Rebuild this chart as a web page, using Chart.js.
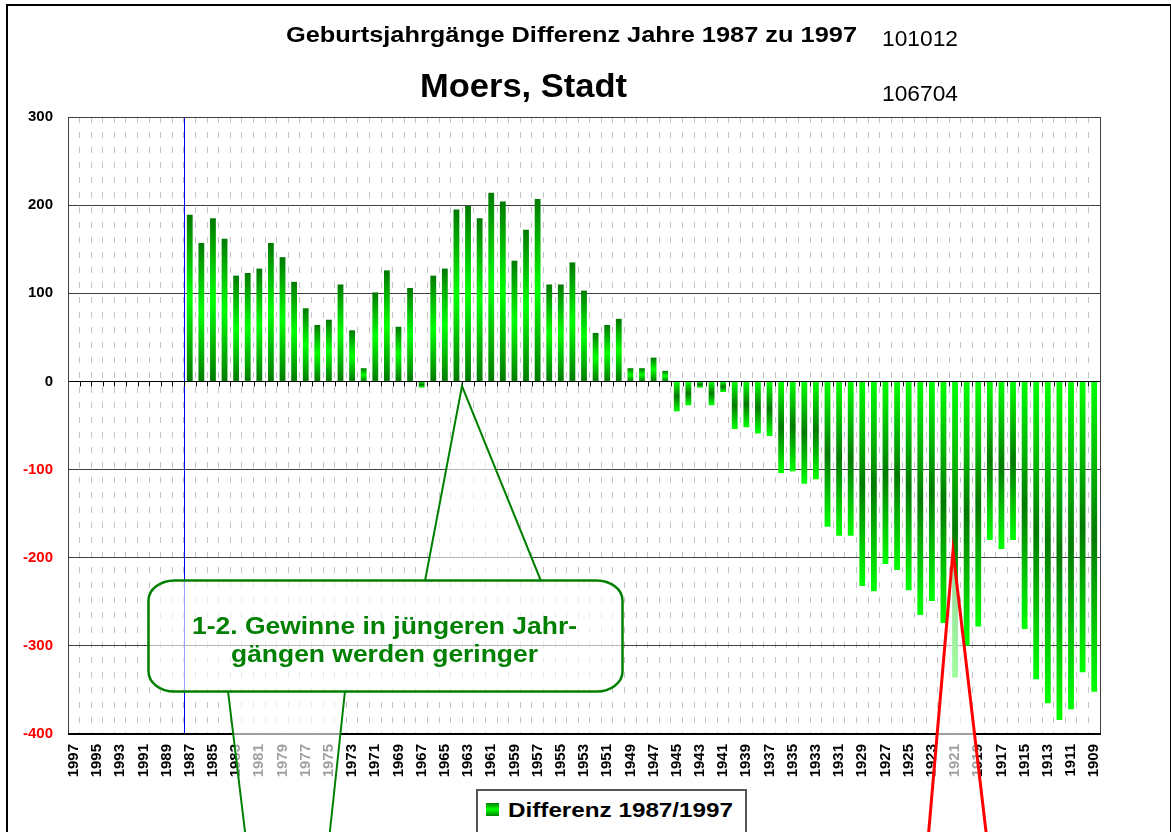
<!DOCTYPE html>
<html>
<head>
<meta charset="utf-8">
<script src="https://cdn.jsdelivr.net/npm/chart.js@4.4.1/dist/chart.umd.min.js"></script>
<style>
  html, body { margin: 0; padding: 0; background: #fff; overflow: hidden; }
  #wrap { position: relative; width: 1171px; height: 832px; overflow: hidden; }
  #frame { position: absolute; left: 6px; top: 4px; width: 1162px; height: 900px; border: 2px solid #000; }
  canvas { position: absolute; left: 0; top: 0; }
  .txt { position: absolute; white-space: nowrap; line-height: 1; font-family: "Liberation Sans", Arial, sans-serif; transform-origin: 0 0; }
  .b { font-weight: bold; }
  .green { color: #008000; }
  #legend { position: absolute; left: 476px; top: 789px; width: 267px; height: 60px; border: 2px solid #555; background: #fff; }
  #marker { position: absolute; left: 486px; top: 803px; width: 13px; height: 13px; background: linear-gradient(#008000, #00ff00 50%, #008000); }
</style>
</head>
<body>
<div id="wrap">
  <div id="frame"></div>
  <canvas id="chart" width="1171" height="832"></canvas>
  <div class="txt b" id="t1" style="left:286px; top:24px; font-size:22px;" data-w="571">Geburtsjahrgänge Differenz Jahre 1987 zu 1997</div>
  <div class="txt" id="n1" style="left:882px; top:28px; font-size:22px;" data-w="76">101012</div>
  <div class="txt b" id="t2" style="left:420px; top:68px; font-size:34px;" data-w="207">Moers, Stadt</div>
  <div class="txt" id="n2" style="left:882px; top:83px; font-size:22px;" data-w="76">106704</div>
  <div class="txt b green" id="c1" style="left:192px; top:614px; font-size:24px;" data-w="385">1-2. Gewinne in jüngeren Jahr-</div>
  <div class="txt b green" id="c2" style="left:231px; top:642px; font-size:24px;" data-w="307">gängen werden geringer</div>
  <div id="legend"></div>
  <div id="marker"></div>
  <div class="txt b" id="lg" style="left:508px; top:799px; font-size:21px;" data-w="225">Differenz 1987/1997</div>
</div>
<script>
// Geburtsjahre 1997 ... 1909
const years = [];
for (let y = 1997; y >= 1909; y--) years.push(String(y));

// keine Werte fuer 1997-1988
const emptyYears = [null, null, null, null, null, null, null, null, null, null];

// Differenz 1987/1997, Jahrgaenge 1987 ... 1909
const diffValues = [
  189, 157, 185, 162, 120, 123, 128, 157, 141, 113,
  83, 64, 70, 110, 58, 15, 101, 126, 62, 106,
  -7, 120, 128, 195, 199, 185, 214, 204, 137, 172,
  207, 110, 110, 135, 103, 55, 64, 71, 15, 15,
  27, 12, -34, -27, -7, -27, -12, -54, -52, -59,
  -62, -104, -102, -116, -111, -165, -175, -175, -232, -238,
  -207, -214, -237, -265, -249, -274, -336, -300, -278, -180,
  -190, -180, -281, -338, -365, -384, -372, -330, -352
];

const yTicks = [300, 200, 100, 0, -100, -200, -300, -400];

const seriesLabel = "Differenz 1987/1997";
const dark = "#007a00";
const bright = "#00ff00";

const barGradient = (ctx) => {
  const chart = ctx.chart;
  const yScale = chart.scales.y;
  const v = ctx.raw;
  if (!yScale || v == null) return bright;
  const p0 = yScale.getPixelForValue(0);
  const p1 = yScale.getPixelForValue(v);
  if (!isFinite(p0) || !isFinite(p1) || p0 === p1) return bright;
  const g = chart.ctx.createLinearGradient(0, Math.min(p0, p1), 0, Math.max(p0, p1));
  const edge = v >= 0 ? dark : bright;
  const mid = v >= 0 ? bright : dark;
  g.addColorStop(0, edge);
  g.addColorStop(0.5, mid);
  g.addColorStop(1, edge);
  return g;
};

// Rahmen, blaue Linie, Nullachsen-Striche und Sprechblasen
const extras = {
  id: "extras",
  beforeDatasetsDraw(chart) {
    const { ctx, chartArea: a, scales } = chart;
    const w = (a.right - a.left) / years.length;
    const y0 = scales.y.getPixelForValue(0);
    ctx.save();
    // blaue Linie zwischen 1988 und 1987
    const xb = Math.round(a.left + 10 * w) + 0.5;
    ctx.strokeStyle = "#0000ff";
    ctx.lineWidth = 1;
    ctx.beginPath();
    ctx.moveTo(xb, a.top);
    ctx.lineTo(xb, a.bottom);
    ctx.stroke();
    // Striche an der Nulllinie
    ctx.strokeStyle = "#000";
    ctx.beginPath();
    for (let k = 0; k <= years.length; k++) {
      const x = Math.round(a.left + k * w) + 0.5;
      ctx.moveTo(x, y0);
      ctx.lineTo(x, y0 + 5);
    }
    ctx.stroke();
    ctx.restore();
  },
  afterDraw(chart) {
    const { ctx, chartArea: a } = chart;
    ctx.save();
    // Plotrahmen
    ctx.strokeStyle = "#404040";
    ctx.lineWidth = 1;
    ctx.strokeRect(a.left + 0.5, a.top + 0.5, a.right - a.left, a.bottom - a.top);
    ctx.strokeStyle = "#000";
    ctx.lineWidth = 2;
    ctx.beginPath();
    ctx.moveTo(a.left, a.bottom);
    ctx.lineTo(a.right + 1, a.bottom);
    ctx.stroke();

    const veil = "rgba(255,255,255,0.62)";
    const green = "#008000";

    // Zeiger nach oben
    ctx.fillStyle = veil;
    ctx.beginPath();
    ctx.moveTo(425, 581);
    ctx.lineTo(462, 386);
    ctx.lineTo(541, 581);
    ctx.closePath();
    ctx.fill();
    ctx.strokeStyle = green;
    ctx.lineWidth = 2;
    ctx.beginPath();
    ctx.moveTo(425, 581);
    ctx.lineTo(462, 386);
    ctx.lineTo(541, 581);
    ctx.stroke();

    // Zeiger nach unten
    ctx.beginPath();
    ctx.moveTo(228, 691);
    ctx.lineTo(246, 840);
    ctx.lineTo(329, 840);
    ctx.lineTo(345, 691);
    ctx.closePath();
    ctx.fill();
    ctx.beginPath();
    ctx.moveTo(228, 691);
    ctx.lineTo(246, 840);
    ctx.moveTo(345, 691);
    ctx.lineTo(329, 840);
    ctx.stroke();

    // Sprechblase
    ctx.beginPath();
    ctx.roundRect(148.5, 580.5, 474, 111, [{ x: 26, y: 20 }]);
    ctx.fill();
    ctx.lineWidth = 2.5;
    ctx.stroke();

    // roter Zeiger
    ctx.beginPath();
    ctx.moveTo(928, 840);
    ctx.lineTo(953, 551);
    ctx.lineTo(987, 840);
    ctx.closePath();
    ctx.fill();
    ctx.strokeStyle = "#ff0000";
    ctx.lineWidth = 3;
    ctx.beginPath();
    ctx.moveTo(928, 840);
    ctx.lineTo(953, 551);
    ctx.lineTo(987, 840);
    ctx.stroke();
    ctx.restore();
  }
};

new Chart(document.getElementById("chart").getContext("2d"), {
  type: "bar",
  data: {
    labels: years,
    datasets: [
      {
        label: seriesLabel,
        data: emptyYears.concat(diffValues),
        backgroundColor: barGradient,
        borderWidth: 0,
        barPercentage: 0.5,
        categoryPercentage: 1.0,
      },
    ],
  },
  options: {
    responsive: false,
    animation: false,
    devicePixelRatio: 1,
    layout: { padding: { top: 117, right: 71, left: 0, bottom: 0 } },
    plugins: {
      legend: { display: false },
      title: { display: false },
      tooltip: { enabled: false },
    },
    scales: {
      x: {
        position: "bottom",
        grid: {
          offset: true,
          color: "#c4c4c4",
          lineWidth: 1,
          drawTicks: false,
        },
        border: { display: false, dash: [6, 9] },
        ticks: {
          autoSkip: false,
          minRotation: 90,
          maxRotation: 90,
          padding: 10,
          color: "#000",
          font: { family: "'Liberation Sans', Arial, sans-serif", size: 15, weight: "bold" },
          callback: (val, i) => (i % 2 === 0 ? years[i] : ""),
        },
        afterFit: (s) => { s.height = 98; },
      },
      y: {
        min: -400,
        max: 300,
        afterBuildTicks: (s) => { s.ticks = yTicks.map((v) => ({ value: v })); },
        grid: {
          color: (c) => (c.tick && c.tick.value === 0 ? "#000" : "#404040"),
          lineWidth: 1,
          drawTicks: false,
        },
        border: { display: false },
        ticks: {
          padding: 15,
          color: (c) => (c.tick && c.tick.value < 0 ? "#ff0000" : "#000"),
          font: { family: "'Liberation Sans', Arial, sans-serif", size: 15, weight: "bold" },
        },
        afterFit: (s) => { s.width = 68; },
      },
    },
  },
  plugins: [extras],
});

// Texte horizontal auf die Breite der Vorlage bringen
document.querySelectorAll(".txt").forEach((el) => {
  const target = Number(el.dataset.w);
  const actual = el.getBoundingClientRect().width;
  if (target && actual) el.style.transform = `scaleX(${target / actual})`;
});
</script>
</body>
</html>
